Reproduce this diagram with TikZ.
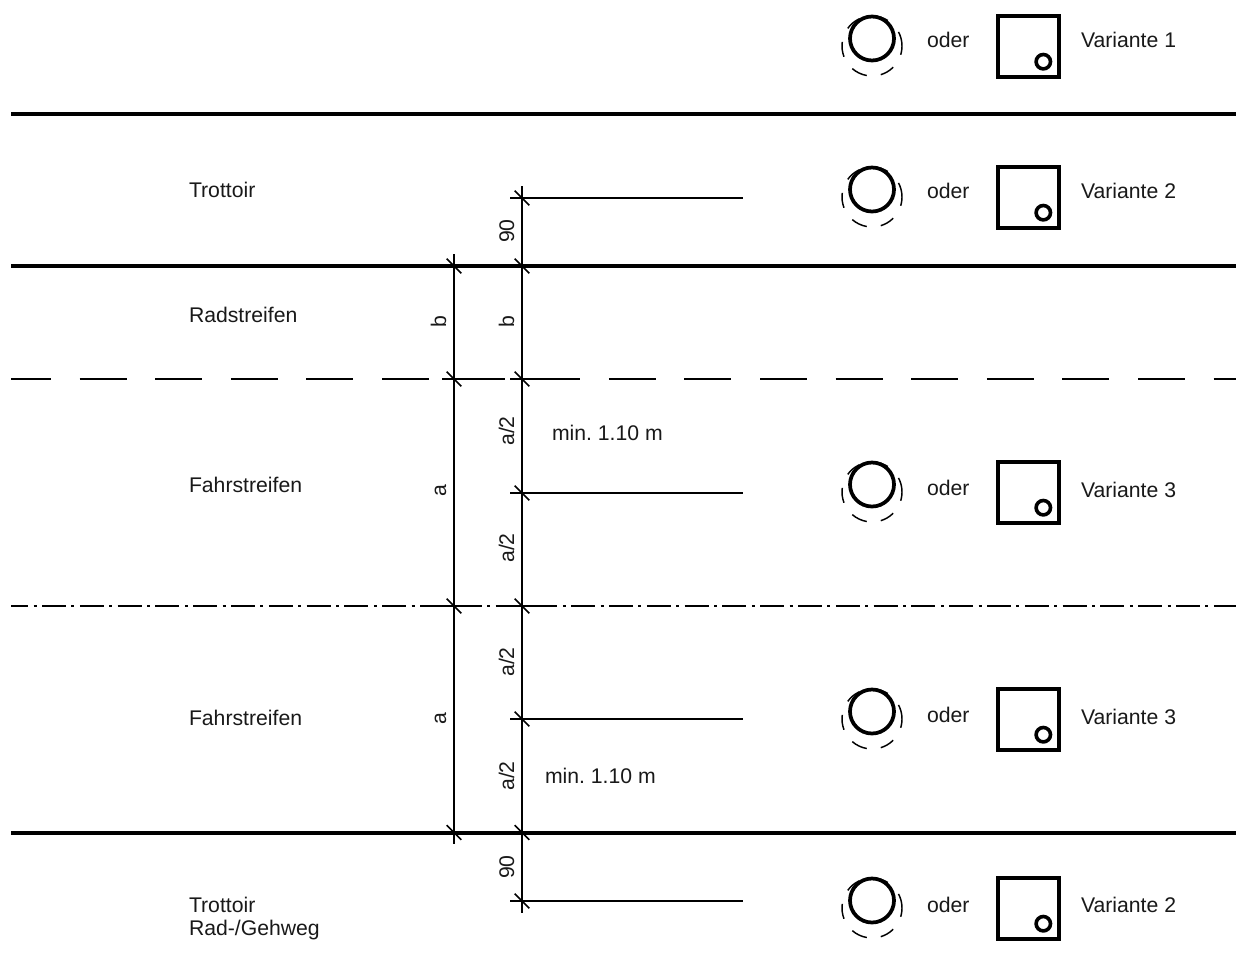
\documentclass[tikz,border=0pt]{standalone}
\usepackage{fontspec}
\setmainfont{Liberation Sans}
\frenchspacing
\tikzset{
  every node/.style={inner sep=0pt,outer sep=0pt,font=\fontsize{15.9pt}{18pt}\selectfont,text=black!90},
  lab/.style={anchor=base west},
  vlab/.style={anchor=base,rotate=90},
  road/.style={line width=3pt},
  lane/.style={line width=1.5pt,dash pattern=on 35.25pt off 21.45pt,dash phase=5.25pt},
  axis/.style={line width=1.5pt,dash pattern=on 18pt off 4.05pt on 2.25pt off 4.05pt,dash phase=5.1pt},
  dimline/.style={line width=1.1pt},
  ext/.style={line width=1.5pt},
  tick/.style={line width=1.1pt},
  trunk/.style={line width=2.8pt},
  crown/.style={line width=1.1pt},
  mast/.style={line width=2.8pt},
  foot/.style={line width=2.7pt},
}
\newcommand{\crownarc}[2]{\draw[crown] (cc) ++(-#1:30) arc[start angle=-#1,end angle=-#2,radius=30];}
\newcommand{\symbols}[1]{% #1 square top
  \begin{scope}[shift={(0,#1)}]
    \coordinate (cc) at (872,30);
    \crownarc{28}{-17}
    \crownarc{172}{201}
    \crownarc{229}{260}
    \crownarc{287}{315}
    \crownarc{115}{144}
    \crownarc{58}{87}
    \draw[trunk] (872,22.5) circle[radius=22];
    \draw[mast] (998,0) rectangle (1059,61);
    \draw[foot] (1043.3,45.7) circle[radius=7.2];
  \end{scope}
}
\newcommand{\xtick}[1]{\draw[tick] ([shift={(-7.3,-7.3)}]#1) -- ([shift={(7.3,7.3)}]#1);}
\begin{document}
\begin{tikzpicture}[x=0.75pt,y=-0.75pt]
\useasboundingbox[fill=white] (0,0) rectangle (1236,978);
% road lines
\coordinate (L1) at (11,114); \coordinate (R1) at (1236,114);
\coordinate (L2) at (11,266); \coordinate (R2) at (1236,266);
\coordinate (L3) at (11,379); \coordinate (R3) at (1236,379);
\coordinate (L4) at (11,606); \coordinate (R4) at (1236,606);
\coordinate (L5) at (11,832.5); \coordinate (R5) at (1236,832.5);
\draw[road] (L1) -- (R1);
\draw[road] (L2) -- (R2);
\draw[lane] (L3) -- (R3);
\draw[axis] (L4) -- (R4);
\draw[road] (L5) -- (R5);
% dimension lines
\coordinate (A0) at (454,254); \coordinate (A1) at (454,844);
\coordinate (B0) at (522,186); \coordinate (B1) at (522,913);
\draw[dimline] (A0) -- (A1);
\draw[dimline] (B0) -- (B1);
% extension lines
\coordinate (E1a) at (510,198); \coordinate (E1b) at (743,198);
\coordinate (E2a) at (510,493); \coordinate (E2b) at (743,493);
\coordinate (E3a) at (510,719); \coordinate (E3b) at (743,719);
\coordinate (E4a) at (510,901); \coordinate (E4b) at (743,901);
\draw[ext] (E1a) -- (E1b);
\draw[ext] (E2a) -- (E2b);
\draw[ext] (E3a) -- (E3b);
\draw[ext] (E4a) -- (E4b);
% short extension stubs on the lane lines
\foreach \y in {379,606} {
  \coordinate (s1) at (442,\y); \coordinate (s2) at (466,\y);
  \coordinate (s3) at (510,\y); \coordinate (s4) at (534,\y);
  \draw[ext] (s1) -- (s2);
  \draw[ext] (s3) -- (s4);
}
% ticks
\foreach \y in {266,379,606,832.5} {\coordinate (t) at (454,\y); \xtick{t}}
\foreach \y in {198,266,379,493,606,719,832.5,901} {\coordinate (t) at (522,\y); \xtick{t}}
% symbols
\symbols{16}
\symbols{167}
\symbols{462}
\symbols{689}
\symbols{878}
% oder
\node[lab] (o1) at (927,47) {oder};
\node[lab] (o2) at (927,198) {oder};
\node[lab] (o3) at (927,495) {oder};
\node[lab] (o4) at (927,722) {oder};
\node[lab] (o5) at (927,912) {oder};
\node[lab] (v1) at (1081,47) {Variante 1};
\node[lab] (v2) at (1081,198) {Variante 2};
\node[lab] (v3) at (1081,497) {Variante 3};
\node[lab] (v4) at (1081,724) {Variante 3};
\node[lab] (v5) at (1081,912) {Variante 2};
% left labels
\node[lab] (n1) at (189,197) {Trottoir};
\node[lab] (n2) at (189,322) {Radstreifen};
\node[lab] (n3) at (189,492) {Fahrstreifen};
\node[lab] (n4) at (189,725) {Fahrstreifen};
\node[lab] (n5) at (189,912) {Trottoir};
\node[lab] (n6) at (189,935) {Rad-/Gehweg};
\node[lab] (m1) at (552,440) {min. 1.10 m};
\node[lab] (m2) at (545,783) {min. 1.10 m};
% rotated dimension labels
\node[vlab] (d1) at (514,231) {90};
\node[vlab] (d2) at (514,322) {b};
\node[vlab] (d3) at (446,322) {b};
\node[vlab] (d4) at (514,431) {a/2};
\node[vlab] (d5) at (514,548) {a/2};
\node[vlab] (d6) at (446,491) {a};
\node[vlab] (d7) at (514,662) {a/2};
\node[vlab] (d8) at (514,776) {a/2};
\node[vlab] (d9) at (446,719) {a};
\node[vlab] (d10) at (514,867) {90};
\end{tikzpicture}
\end{document}
